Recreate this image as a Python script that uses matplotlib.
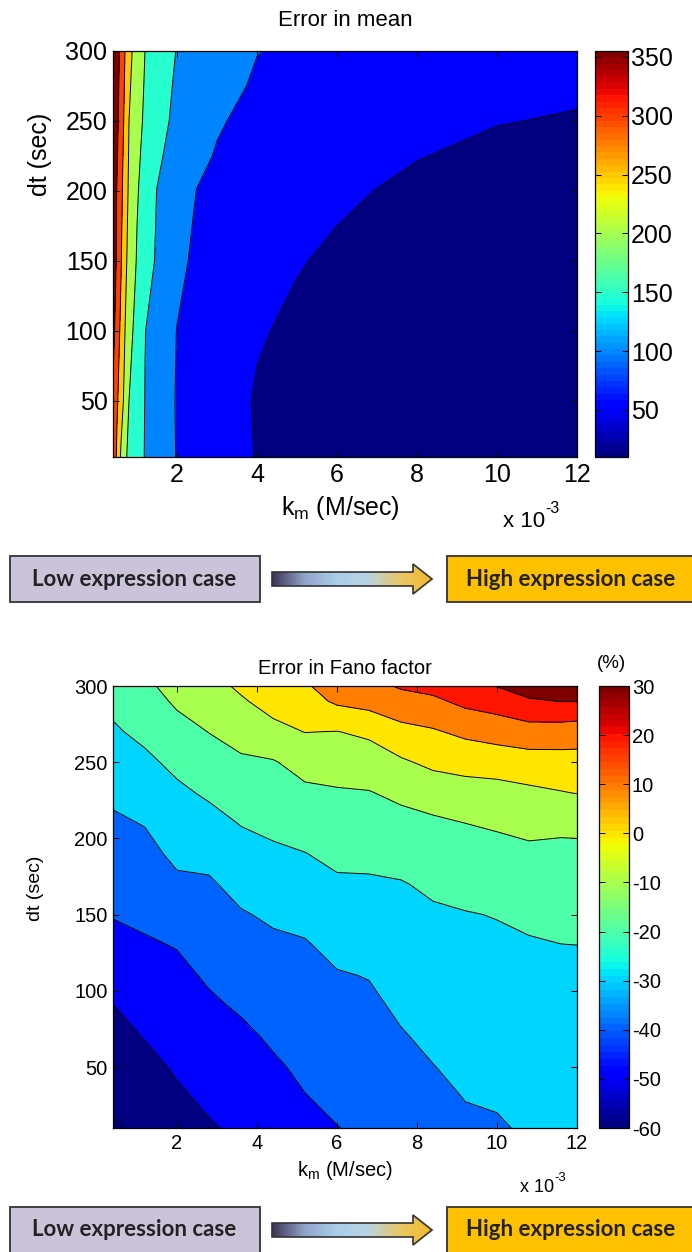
import numpy as np
import matplotlib
matplotlib.use('Agg')
import matplotlib.pyplot as plt
from matplotlib import colors
from matplotlib.cm import ScalarMappable
from matplotlib.patches import Rectangle, Polygon

plt.rcParams['font.family'] = ['Liberation Sans', 'DejaVu Sans']
plt.rcParams['mathtext.fontset'] = 'custom'
plt.rcParams['mathtext.rm'] = 'Liberation Sans'
plt.rcParams['axes.unicode_minus'] = False

W, H = 692, 1252

# ---- error in mean (%): km in 1e-3 M/sec, dt in sec
km_mean = [0.4, 0.5, 0.6, 0.7, 0.8, 1.0, 1.2, 1.5, 2.0, 2.5, 3.0, 4.0, 5.0, 6.0, 8.0, 10.0, 12.0]
dt_mean = [10, 50, 100, 150, 200, 225, 250, 275, 300]
err_mean = [
    [340, 290, 243, 207, 191, 169, 148, 128, 98, 82, 72, 48, 38, 32, 24, 17, 11],
    [343, 307, 271, 236, 200, 173, 149, 127, 97, 83, 69, 47, 39, 33, 26, 20, 15],
    [365, 327, 288, 250, 219, 180, 151, 131, 99, 88, 77, 53, 44, 38, 30, 25, 21],
    [380, 342, 304, 262, 235, 196, 173, 144, 110, 92, 82, 65, 52, 45, 36, 30, 26],
    [380, 347, 313, 275, 242, 204, 181, 149, 123, 99, 90, 76, 65, 55, 44, 37, 32],
    [388, 354, 319, 281, 246, 210, 186, 158, 131, 110, 97, 82, 71, 61, 51, 44, 40],
    [395, 361, 325, 288, 250, 217, 192, 167, 139, 121, 104, 88, 78, 68, 55, 51, 48],
    [402, 366, 330, 294, 257, 222, 196, 173, 143, 129, 114, 95, 85, 76, 64, 58, 54],
    [410, 371, 336, 300, 264, 228, 200, 180, 148, 137, 125, 101, 93, 85, 73, 65, 60],
]
mean_levels = [50, 100, 150, 200, 250, 300, 350]
mean_ticks = [50, 100, 150, 200, 250, 300, 350]
mean_clim = (10, 355)

# ---- error in Fano factor (%)
km_fano = [0.4, 1.2, 2.0, 2.8, 3.6, 4.4, 5.2, 6.0, 6.8, 7.6, 8.4, 9.2, 10.0, 10.8, 11.6, 12.0]
dt_fano = [10, 30, 50, 70, 90, 110, 130, 150, 170, 190, 210, 230, 250, 270, 290, 300]
err_fano = [
    [-61.0, -58.0, -53.6, -50.8, -48.5, -46.0, -42.3, -40.2, -38.5, -35.4, -33.8, -31.3, -30.8, -29.0, -27.0, -26.5],
    [-58.0, -55.3, -51.3, -48.5, -46.6, -43.6, -40.3, -38.3, -36.8, -33.8, -32.0, -29.8, -29.2, -27.6, -25.9, -25.5],
    [-55.5, -52.4, -49.0, -46.1, -44.5, -41.2, -38.4, -36.3, -35.0, -32.2, -30.2, -28.2, -27.7, -26.2, -24.7, -24.4],
    [-53.0, -49.6, -46.7, -43.8, -41.8, -38.8, -36.4, -34.4, -33.3, -30.6, -28.4, -26.6, -26.1, -24.8, -23.6, -23.3],
    [-50.2, -46.7, -44.5, -41.4, -39.0, -36.4, -34.5, -32.5, -31.6, -28.7, -26.5, -25.1, -24.5, -23.5, -22.4, -22.2],
    [-46.7, -43.9, -42.1, -38.9, -36.3, -34.0, -32.6, -30.6, -29.7, -26.6, -24.7, -23.5, -23.0, -22.1, -21.3, -21.1],
    [-43.0, -41.0, -39.6, -36.3, -33.5, -31.6, -30.7, -27.7, -26.9, -24.6, -22.9, -22.0, -21.4, -20.7, -20.1, -20.0],
    [-39.5, -38.2, -35.6, -33.7, -30.7, -28.7, -27.6, -24.5, -24.0, -22.6, -21.1, -20.4, -19.7, -18.5, -17.5, -17.3],
    [-36.8, -35.4, -31.6, -31.1, -27.2, -25.1, -23.9, -21.3, -21.1, -20.5, -18.6, -17.3, -16.2, -15.2, -14.8, -14.7],
    [-34.1, -32.5, -28.1, -27.4, -23.4, -21.5, -20.2, -17.9, -17.8, -16.9, -15.1, -13.6, -12.8, -11.8, -12.1, -12.0],
    [-31.4, -29.6, -24.9, -23.0, -19.6, -17.9, -16.0, -14.4, -14.1, -12.9, -11.6, -10.0, -8.9, -7.5, -8.1, -8.0],
    [-28.2, -25.7, -21.7, -18.7, -15.5, -14.3, -11.9, -10.9, -10.4, -8.0, -5.6, -3.8, -3.3, -1.9, -0.4, 0.3],
    [-24.6, -21.8, -17.9, -14.2, -11.4, -10.7, -6.5, -5.8, -5.0, -1.3, 2.1, 3.3, 4.2, 5.7, 6.3, 6.6],
    [-21.1, -17.9, -13.3, -9.8, -6.5, -2.7, 0.2, -0.2, 1.8, 7.0, 9.0, 12.1, 14.3, 15.9, 15.3, 14.5],
    [-18.0, -14.0, -8.6, -5.5, -1.1, 3.5, 6.0, 11.5, 13.5, 16.5, 18.1, 22.3, 24.4, 28.7, 30.2, 30.2],
    [-17.0, -12.0, -6.3, -3.3, 1.6, 5.5, 9.0, 14.0, 17.0, 21.0, 23.0, 27.0, 30.3, 35.0, 36.0, 36.0],
]
fano_levels = [-60, -50, -40, -30, -20, -10, 0, 10, 20, 30]
fano_ticks = [-60, -50, -40, -30, -20, -10, 0, 10, 20, 30]
fano_clim = (-60, 30)

x_ticks = [2, 4, 6, 8, 10, 12]
y_ticks = [50, 100, 150, 200, 250, 300]

jet = plt.get_cmap('jet', 64)


def rect(left, top, right, bottom):
    # pixel box -> figure fraction
    return [left / W, 1 - bottom / H, (right - left) / W, (bottom - top) / H]


def ftext(px, py, s, **kw):
    # text placed in figure pixels (y measured from the top)
    return fig.text(px / W, 1 - py / H, s, **kw)


def filled_contour(ax, x, y, z, levels, clim):
    ''' matlab style contourf: every band takes the colour of its lower level '''
    z = np.array(z, dtype=float)
    norm = colors.Normalize(*clim, clip=True)
    edges = [min(z.min(), levels[0]) - 1] + list(levels) + [max(z.max(), levels[-1]) + 1]
    lower = [z.min()] + list(levels)
    band_colors = [jet(norm(v)) for v in lower]
    ax.contourf(x, y, z, levels=edges, colors=band_colors)
    ax.contour(x, y, z, levels=levels, colors='k', linewidths=0.7, linestyles='solid')


def style_axes(ax, fs):
    ax.set_xlim(0.4, 12)
    ax.set_ylim(10, 300)
    ax.set_xticks(x_ticks)
    ax.set_yticks(y_ticks)
    ax.tick_params(direction='in', top=True, right=True, labelsize=fs,
                   length=4, width=0.7, pad=4)
    for s in ax.spines.values():
        s.set_linewidth(0.9)


def add_colorbar(box, clim, ticks, fs):
    cax = fig.add_axes(box)
    sm = ScalarMappable(norm=colors.Normalize(*clim), cmap=jet)
    cb = fig.colorbar(sm, cax=cax, ticks=ticks)
    cb.outline.set_linewidth(0.9)
    cax.tick_params(direction='in', left=True, right=True, labelsize=fs,
                    length=4, width=0.7, pad=2)
    return cb


def exponent_note(px, py, fs):
    # "x 10^-3" with a plain hyphen in the exponent
    ftext(px, py, 'x 10', ha='left', va='baseline', fontsize=fs)
    ftext(px + fs * 2.62, py - fs * 0.85, '-3', ha='left', va='baseline', fontsize=fs * 0.72)


def draw_banner(ax, top, h=46):
    ink = '#333333'
    ax.add_patch(Rectangle((10, top), 250, h, facecolor='#cbc3da', edgecolor=ink, lw=1.3))
    ax.text(134, top + h / 2, 'Low expression case', ha='center', va='center',
            fontsize=16, fontweight='bold', family='Lato', color='#222222')

    # gradient arrow
    yc = top + h / 2
    pts = [(272, yc - 7), (413, yc - 7), (413, yc - 15), (432, yc), (413, yc + 15),
           (413, yc + 7), (272, yc + 7)]
    arrow = Polygon(pts, closed=True, facecolor='none', edgecolor=ink, lw=1.2, zorder=3)
    ax.add_patch(arrow)
    grad = colors.LinearSegmentedColormap.from_list(
        'arrow', ['#3d3356', '#8fa3c8', '#aacdeb', '#b9d3e4', '#e8c865', '#f3b92a'])
    img = ax.imshow(np.linspace(0, 1, 256)[None, :], cmap=grad, aspect='auto',
                    extent=(272, 432, yc + 16, yc - 16), zorder=2)
    img.set_clip_path(arrow)

    ax.add_patch(Rectangle((447, top), 260, h, facecolor='#ffc000', edgecolor=ink, lw=1.3))
    ax.text(571, top + h / 2, 'High expression case', ha='center', va='center',
            fontsize=16, fontweight='bold', family='Lato', color='#222222')


fig = plt.figure(figsize=(W / 100, H / 100), dpi=100)

# ---- top panel: error in mean
ax1 = fig.add_axes(rect(113, 51, 577, 457))
filled_contour(ax1, km_mean, dt_mean, err_mean, mean_levels, mean_clim)
style_axes(ax1, 18)
ax1.set_title('Error in mean', fontsize=16, pad=18)
add_colorbar(rect(595, 51, 628, 457), mean_clim, mean_ticks, 18)
ftext(40, 154, 'dt (sec)', rotation=90, ha='center', va='center', fontsize=18)
ftext(340, 508, r'k$_\mathregular{m}$ (M/sec)', ha='center', va='center', fontsize=18)
exponent_note(503, 527, 16)

# ---- bottom panel: error in Fano factor
ax2 = fig.add_axes(rect(113, 686, 577, 1128))
filled_contour(ax2, km_fano, dt_fano, err_fano, fano_levels, fano_clim)
style_axes(ax2, 14.5)
ax2.set_title('Error in Fano factor', fontsize=14.5, pad=9)
add_colorbar(rect(599, 686, 629, 1128), fano_clim, fano_ticks, 14.5)
ftext(611, 663, '(%)', ha='center', va='center', fontsize=13.5)
ftext(36, 888, 'dt (sec)', rotation=90, ha='center', va='center', fontsize=14)
ftext(345, 1170, r'k$_\mathregular{m}$ (M/sec)', ha='center', va='center', fontsize=14.5)
exponent_note(520, 1192, 13)

# ---- "low -> high expression" banners
bg = fig.add_axes([0, 0, 1, 1], zorder=-1)
bg.axis('off')
draw_banner(bg, 556)
draw_banner(bg, 1207)
bg.set_xlim(0, W)
bg.set_ylim(H, 0)

fig.savefig('out.png', dpi=100)
